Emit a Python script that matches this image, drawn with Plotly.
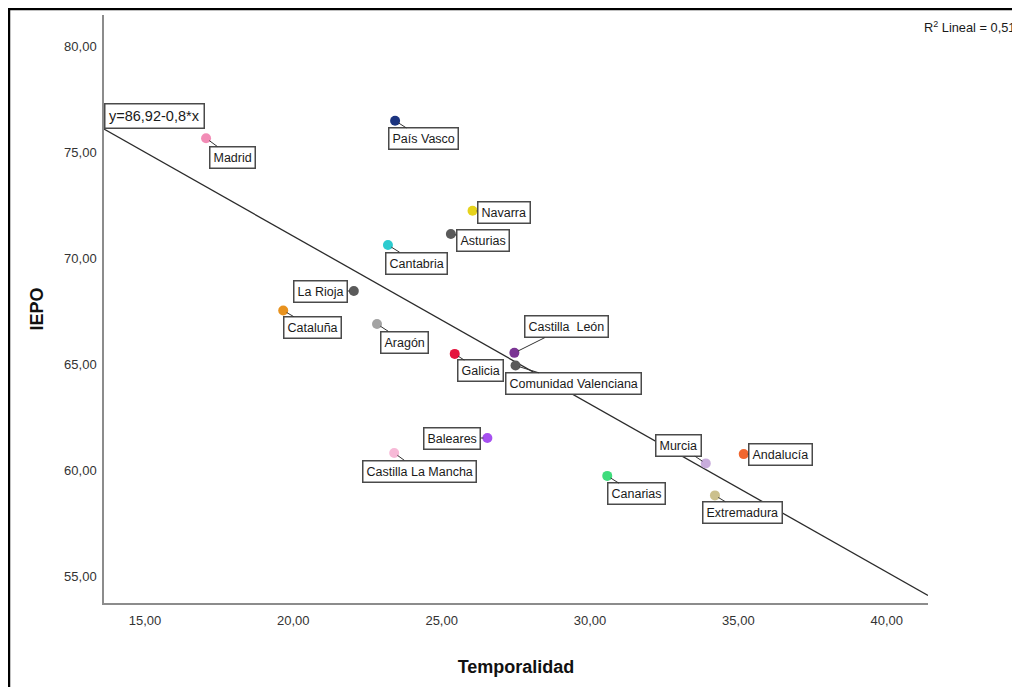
import plotly.graph_objects as go

# ---------------- data ----------------
regions = ["Madrid", "País Vasco", "Navarra", "Asturias", "Cantabria", "La Rioja",
           "Cataluña", "Aragón", "Galicia", "Castilla  León", "Comunidad Valenciana",
           "Baleares", "Castilla La Mancha", "Canarias", "Murcia", "Andalucía", "Extremadura"]
temporalidad = [17.06, 23.43, 26.04, 25.31, 23.19, 22.04,
                19.66, 22.82, 25.44, 27.45, 27.49,
                26.54, 23.40, 30.58, 33.90, 35.18, 34.21]
iepo = [75.68, 76.51, 72.26, 71.16, 70.64, 68.47,
        67.55, 66.91, 65.50, 65.55, 64.95,
        61.53, 60.82, 59.74, 60.33, 60.77, 58.82]
fit_intercept = 86.92
fit_slope = -0.793
equation_text = "y=86,92-0,8*x"
r2_text = "R<sup>2</sup> Lineal = 0,51"
x_ticks = [15, 20, 25, 30, 35, 40]
y_ticks = [55, 60, 65, 70, 75, 80]

# ---------------- styles ----------------
colors = ["#f28cb6", "#1b3480", "#e6d31c", "#5a5a5a", "#2ccbcf", "#5a5a5a",
          "#e8921e", "#a3a3a3", "#e5133d", "#7b3594", "#5a5a5a",
          "#a650f0", "#f7b9d7", "#3fdc7c", "#c8acdc", "#f0662f", "#cbc08d"]
# label box offsets in pixels (dx, dy) relative to each point
label_offsets = [(26, 19), (28, 18), (31, 2), (32, 6), (29, 18), (-33, 0),
                 (29, 17), (28, 18), (26, 17), (52, -26), (58, 18),
                 (-35, 0), (25, 18), (29, 18), (-27, -18), (37, 0), (28, 17)]

x_range = [13.62, 41.39]
y_range = [53.74, 81.5]
FONT = "Liberation Sans, Arial, sans-serif"

fig = go.Figure()

# regression line across the x range
line_x = x_range
line_y = [fit_intercept + fit_slope * v for v in line_x]
fig.add_trace(go.Scatter(x=line_x, y=line_y, mode="lines",
                         line=dict(color="#2b2b2b", width=1.3),
                         hoverinfo="skip", showlegend=False, cliponaxis=False))

fig.add_trace(go.Scatter(x=temporalidad, y=iepo, mode="markers", text=regions,
                         marker=dict(size=10, color=colors, line=dict(width=0)),
                         showlegend=False, cliponaxis=False))

annotations = []
for name, xv, yv, (dx, dy) in zip(regions, temporalidad, iepo, label_offsets):
    annotations.append(dict(
        x=xv, y=yv, xref="x", yref="y", text=name, showarrow=True,
        arrowhead=0, arrowwidth=1, arrowcolor="#333333", standoff=4,
        ax=dx, ay=dy, axref="pixel", ayref="pixel",
        font=dict(family=FONT, size=12.5, color="#1a1a1a"),
        bgcolor="white", bordercolor="#4a4a4a", borderwidth=1.5, borderpad=3))

# equation label at start of regression line
annotations.append(dict(
    x=line_x[0], y=line_y[0], xref="x", yref="y", text=equation_text,
    showarrow=False, xanchor="left", yanchor="bottom",
    font=dict(family=FONT, size=14.5, color="#1a1a1a"),
    bgcolor="white", bordercolor="#4a4a4a", borderwidth=1.5, borderpad=3.5))

# R2 label
annotations.append(dict(
    x=1.108, y=0.9796, xref="paper", yref="paper", text=r2_text,
    showarrow=False, xanchor="right", yanchor="middle",
    font=dict(family=FONT, size=12.8, color="#1a1a1a")))

shapes = [
    # outer frame (left and top)
    dict(type="line", xref="paper", yref="paper", x0=-0.1153, x1=-0.1153,
         y0=1.0119, y1=-0.15, line=dict(color="black", width=2.5)),
    dict(type="line", xref="paper", yref="paper", x0=-0.1168, x1=1.12,
         y0=1.0102, y1=1.0102, line=dict(color="black", width=2.5)),
]

# page body adds an 8px margin, so the figure is sized and placed to compensate
fig.update_layout(
    width=1012, height=679,
    margin=dict(l=96, r=92, t=7, b=84),
    paper_bgcolor="white", plot_bgcolor="white",
    separators=",.",
    font=dict(family=FONT, size=13, color="#333333"),
    annotations=annotations, shapes=shapes,
    xaxis=dict(range=x_range, tickvals=x_ticks, tickformat=".2f",
               showgrid=False, zeroline=False, showline=True,
               linecolor="#8c8c8c", linewidth=1.5, ticks="",
               ticklabelstandoff=5,
               tickfont=dict(family=FONT, size=13, color="#333333"),
               title=dict(text="<b>Temporalidad</b>", standoff=33,
                          font=dict(family=FONT, size=18, color="#111111"))),
    yaxis=dict(range=y_range, tickvals=y_ticks, tickformat=".2f",
               showgrid=False, zeroline=False, showline=True,
               linecolor="#8c8c8c", linewidth=1.5, ticks="",
               ticklabelstandoff=3,
               tickfont=dict(family=FONT, size=13, color="#333333"),
               title=dict(text="<b>IEPO</b>", standoff=16,
                          font=dict(family=FONT, size=18, color="#111111"))),
)

fig.write_html("out.html")
